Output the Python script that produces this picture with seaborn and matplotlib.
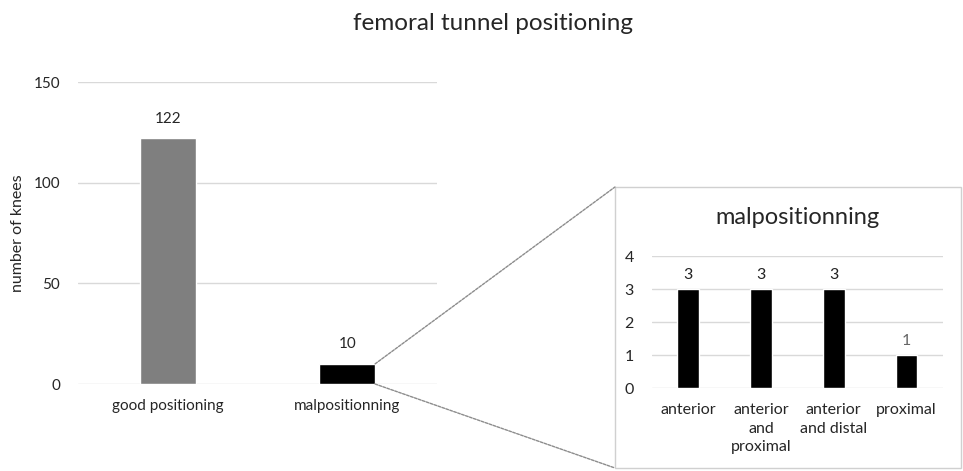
import matplotlib
matplotlib.use("Agg")
import matplotlib.pyplot as plt
from matplotlib.patches import Rectangle, ConnectionPatch
import seaborn as sns
import pandas as pd

# Main chart data
main_categories = ["good positioning", "malpositionning"]
main_values = [122, 10]
main_colors = ["#7f7f7f", "#000000"]

# Breakdown of malpositioned tunnels
sub_categories = ["anterior", "anterior\nand\nproximal", "anterior\nand distal", "proximal"]
sub_values = [3, 3, 3, 1]
sub_label_colors = ["#222222", "#222222", "#222222", "#666666"]

main_yticks = [0, 50, 100, 150]
sub_yticks = [0, 1, 2, 3, 4]

sns.set_style("white")
plt.rcParams["font.family"] = ["Lato", "DejaVu Sans"]
text_color = "#262626"
grid_color = "#d9d9d9"

fig = plt.figure(figsize=(9.63, 4.71), dpi=100)

# ---- main bar chart ----
ax = fig.add_axes([0.081, 0.1847, 0.3728, 0.641])
df_main = pd.DataFrame({"cat": main_categories, "n": main_values})
sns.barplot(data=df_main, x="cat", y="n", hue="cat", palette=main_colors,
            width=0.31, legend=False, ax=ax, saturation=1)
ax.set_ylim(0, 150)
ax.set_xlim(-0.5, 1.5)
ax.set_yticks(main_yticks)
ax.yaxis.grid(True, color=grid_color, linewidth=1)
ax.set_axisbelow(True)
for s in ax.spines.values():
    s.set_visible(False)
ax.tick_params(axis="both", length=0, labelsize=11, colors=text_color)
ax.tick_params(axis="y", pad=13)
ax.tick_params(axis="x", pad=11)
ax.set_xlabel("")
ax.set_ylabel("number of knees", fontsize=11.5, color=text_color)
ax.yaxis.set_label_coords(-0.148, 0.5)
for i, v in enumerate(main_values):
    ax.annotate(str(v), (i, v), xytext=(0, 9), textcoords="offset points",
                ha="center", va="bottom", fontsize=11, color=text_color)

fig.text(0.512, 0.951, "femoral tunnel positioning", ha="center", va="center",
         fontsize=17.5, color=text_color)

# ---- inset box with breakdown ----
box = Rectangle((0.6386, 0.0064), 0.359, 0.597, transform=fig.transFigure,
                facecolor="white", edgecolor="#d0d0d0", linewidth=1, zorder=-1)
fig.patches.append(box)

ax2 = fig.add_axes([0.677, 0.1762, 0.302, 0.280])
ax2.patch.set_alpha(0)
df_sub = pd.DataFrame({"cat": sub_categories, "n": sub_values})
sns.barplot(data=df_sub, x="cat", y="n", color="black", width=0.30,
            ax=ax2, saturation=1)
ax2.set_ylim(0, 4)
ax2.set_xlim(-0.5, 3.5)
ax2.set_yticks(sub_yticks)
ax2.yaxis.grid(True, color=grid_color, linewidth=1)
ax2.set_axisbelow(True)
for s in ax2.spines.values():
    s.set_visible(False)
ax2.tick_params(axis="both", length=0, labelsize=11.5, colors=text_color)
ax2.tick_params(axis="y", pad=13)
ax2.tick_params(axis="x", pad=11)
for lbl in ax2.get_xticklabels():
    lbl.set_linespacing(1.4)
ax2.set_xlabel("")
ax2.set_ylabel("")
for i, v in enumerate(sub_values):
    ax2.annotate(str(v), (i, v), xytext=(0, 5), textcoords="offset points",
                 ha="center", va="bottom", fontsize=11.5, color=sub_label_colors[i])
ax2.set_title("malpositionning", fontsize=17, color=text_color, pad=23)

# ---- zoom connector lines ----
bar_right = 1 + 0.31 / 2
for y_data, fig_pt in [(10, (0.6386, 0.603)), (0, (0.6386, 0.0064))]:
    con = ConnectionPatch(xyA=(bar_right, y_data), coordsA=ax.transData,
                          xyB=fig_pt, coordsB=fig.transFigure,
                          color="#8c8c8c", linewidth=1, linestyle=(0, (2, 1)))
    fig.add_artist(con)

fig.savefig("out.png", dpi=100)
